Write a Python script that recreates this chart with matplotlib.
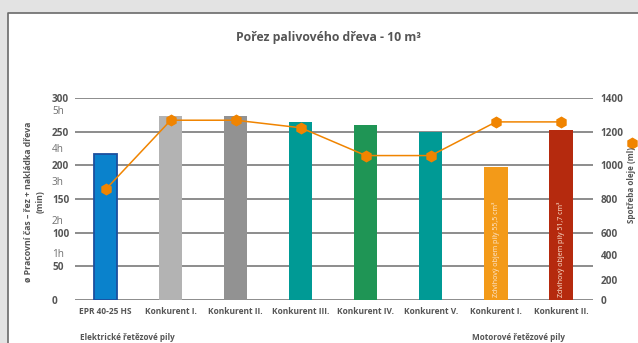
import numpy as np
import matplotlib
matplotlib.use("Agg")
import matplotlib.pyplot as plt
from matplotlib.patches import Rectangle
from matplotlib.lines import Line2D
from matplotlib.scale import FuncScale

plt.rcParams['font.family'] = ['Open Sans', 'DejaVu Sans']

# --- data -------------------------------------------------------------
categories = ["EPR 40-25 HS", "Konkurent I.", "Konkurent II.", "Konkurent III.",
              "Konkurent IV.", "Konkurent V.", "Konkurent I.", "Konkurent II."]
work_time_min = [217, 274, 274, 265, 260, 250, 198, 252]        # bars, left axis
oil_use_ml = [857, 1268, 1268, 1223, 1058, 1058, 1258, 1258]     # line, right axis
bar_colors = ["#0a82cc", "#b3b3b3", "#929292", "#009a95",
              "#1f9555", "#009a95", "#f39a18", "#b52a0e"]
bar_notes = {6: "Zdvihový objem pily 55,5 cm³", 7: "Zdvihový objem pily 51,7 cm³"}

left_ticks = [0, 50, 100, 150, 200, 250, 300]
hour_labels = ["1h", "2h", "3h", "4h", "5h"]
hour_label_pos = [68, 117, 174, 224, 280]
right_ticks = [0, 200, 400, 600, 800, 1000, 1200, 1400]
# the oil axis is stretched differently below 600 ml
oil_knots = [0, 200, 400, 600, 1400]
min_knots = [0, 30, 67, 100, 300]

title = "Pořez palivového dřeva - 10 m³"
ylabel_left = "ø Pracovní čas – řez + nakládka dřeva\n(min)"
ylabel_right = "Spotřeba oleje (ml)"
group_labels = ["Elektrické řetězové pily", "Motorové řetězové pily"]

TXT = "#555555"
GRID = "#8c8c8c"
LINE = "#f08400"

W, H = 638, 343
fig = plt.figure(figsize=(W / 100, H / 100), dpi=100)
fig.patch.set_facecolor("#e3e3e3")
# white card with a thin dark rim on its top and left edge
fig.patches.append(Rectangle((8 / W, 0), 1, 1 - 13 / H, transform=fig.transFigure,
                             facecolor="white", edgecolor="none", zorder=-5))
fig.lines.append(Line2D([8 / W, 8 / W, 1], [0, 1 - 13 / H, 1 - 13 / H],
                        transform=fig.transFigure, color="#6a6a6a", lw=1.2,
                        zorder=-4))

ax = fig.add_axes([75 / W, 43 / H, 518 / W, 202 / H])
ax.set_facecolor("none")
x = np.arange(len(categories))
bars = ax.bar(x, work_time_min, width=0.355, color=bar_colors, zorder=2)
bars[0].set_edgecolor("#1c4f9e")
bars[0].set_linewidth(1.3)

for i, note in bar_notes.items():
    ax.text(x[i], 4, note, rotation=90, ha="center", va="bottom",
            color="#fde9d6", fontsize=5.0, zorder=3)

ax.set_xlim(-0.472, 7.492)
ax.set_ylim(0, 300)
ax.set_yticks(left_ticks)
ax.set_yticklabels([str(t) for t in left_ticks])
ax.tick_params(axis="y", length=0, pad=16.5, labelsize=7.2, labelcolor=TXT)
for lab in ax.get_yticklabels():
    lab.set_ha("left")
    lab.set_fontweight("bold")
ax.set_xticks(x)
ax.set_xticklabels(categories, fontsize=6.0, fontweight="bold", color=TXT)
ax.tick_params(axis="x", length=0, pad=5.2)
ax.grid(axis="y", color=GRID, lw=1.4, zorder=1)
ax.set_axisbelow(True)
for s in ax.spines.values():
    s.set_visible(False)

for lab, pos in zip(hour_labels, hour_label_pos):
    ax.text(-23 / 518, pos, lab, transform=ax.get_yaxis_transform(),
            ha="left", va="center", fontsize=7.2, color="#707070")

# oil consumption on the right axis
ax2 = ax.twinx()
fwd = lambda v: np.interp(v, oil_knots, min_knots)
inv = lambda m: np.interp(m, min_knots, oil_knots)
ax2.set_yscale(FuncScale(ax2, (fwd, inv)))
ax2.set_ylim(0, 1400)
ax2.set_yticks(right_ticks)
ax2.set_yticklabels([str(t) for t in right_ticks])
ax2.tick_params(axis="y", length=0, pad=5.5, labelsize=7.2, labelcolor=TXT)
for lab in ax2.get_yticklabels():
    lab.set_fontweight("bold")
for s in ax2.spines.values():
    s.set_visible(False)
ax2.plot(x, oil_use_ml, color=LINE, lw=1.1, marker="h", markersize=7.5,
         markeredgecolor=LINE, zorder=4, clip_on=False)

fig.text(329 / W, 1 - 38 / H, title, ha="center", va="center",
         fontsize=8.8, fontweight="bold", color=TXT)
fig.text(34 / W, 1 - 202 / H, ylabel_left, rotation=90, ha="center", va="center",
         multialignment="center", fontsize=6.3, fontweight="bold", color=TXT,
         linespacing=1.35)
fig.text(632 / W, 1 - 185 / H, ylabel_right, rotation=90, ha="center", va="center",
         fontsize=5.8, fontweight="bold", color=TXT)
fig.lines.append(Line2D([632 / W], [1 - 143 / H], transform=fig.transFigure,
                        marker="h", markersize=7.5, color=LINE, lw=0))
fig.text(80 / W, 1 - 338 / H, group_labels[0], ha="left", va="center",
         fontsize=5.9, fontweight="bold", color=TXT)
fig.text(472 / W, 1 - 338 / H, group_labels[1], ha="left", va="center",
         fontsize=5.9, fontweight="bold", color=TXT)

fig.savefig("out.png", dpi=100, facecolor=fig.get_facecolor())
